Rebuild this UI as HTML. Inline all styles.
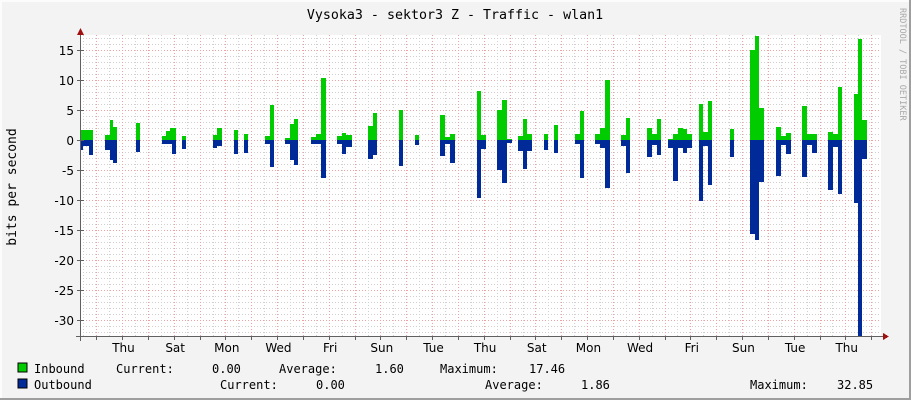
<!DOCTYPE html>
<html><head><meta charset="utf-8"><style>
html,body{margin:0;padding:0;background:#f3f3f3;}
svg{display:block;}
.m{font-family:"DejaVu Sans Mono","Liberation Mono",monospace;font-size:12px;fill:#000;}
.s{font-family:"DejaVu Sans","Liberation Sans",sans-serif;font-size:12px;fill:#000;}
</style></head><body>
<svg id="g" width="911" height="400" xmlns="http://www.w3.org/2000/svg" shape-rendering="crispEdges">
<rect x="0" y="0" width="911" height="400" fill="#f3f3f3"/>
<rect x="0" y="0" width="911" height="2" fill="#fcfcfc"/>
<rect x="0" y="0" width="2" height="400" fill="#fcfcfc"/>
<rect x="0" y="398" width="911" height="2" fill="#9e9e9e"/>
<rect x="909" y="0" width="2" height="400" fill="#9e9e9e"/>
<rect x="80" y="35" width="801" height="302" fill="#ffffff"/>
<g id="grid"></g>
<g id="bars"></g>
<g id="axes"></g>
<text class="m" x="455" y="19" text-anchor="middle" style="font-size:13.3px">Vysoka3 - sektor3 Z - Traffic - wlan1</text>
<text class="m" x="0" y="0" transform="translate(16,187) rotate(-90)" text-anchor="middle" style="font-size:13px">bits per second</text>
<text x="0" y="0" transform="translate(900,8) rotate(90)" style="font-family:'DejaVu Sans Mono','Liberation Mono',monospace;font-size:8.5px;fill:#a8a8a8">RRDTOOL / TOBI OETIKER</text>
<rect x="18" y="363" width="9" height="9" fill="#00cc00" stroke="#000" stroke-width="1"/>
<rect x="18" y="379" width="9" height="9" fill="#002a97" stroke="#000" stroke-width="1"/>
<g class="m">
<text x="34" y="373">Inbound</text><text x="116" y="373">Current:</text><text x="212" y="373">0.00</text><text x="279" y="373">Average:</text><text x="375" y="373">1.60</text><text x="440" y="373">Maximum:</text><text x="529" y="373">17.46</text>
<text x="34" y="389">Outbound</text><text x="220" y="389">Current:</text><text x="316" y="389">0.00</text><text x="485" y="389">Average:</text><text x="581" y="389">1.86</text><text x="750" y="389">Maximum:</text><text x="837" y="389">32.85</text>
</g>
</svg>
<script>
var NS="http://www.w3.org/2000/svg";
function el(p,t,a,txt){var e=document.createElementNS(NS,t);for(var k in a)e.setAttribute(k,a[k]);if(txt)e.textContent=txt;document.getElementById(p).appendChild(e);}
for(var v=-32;v<=17;v++){var y=140-6*v;if(y<35||y>336)continue;
 var maj=(v%5===0);
 el("grid","line",{x1:80,x2:881,y1:y+0.5,y2:y+0.5,stroke:maj?"#f0a0a0":"#d0d0d0","stroke-dasharray":"1,2"});}
for(var i=-1;i<32;i++){var xr=96.3+25.83*i, xg=xr-12.9;
 if(xg>80&&xg<881)el("grid","line",{x1:Math.round(xg)+0.5,x2:Math.round(xg)+0.5,y1:35,y2:337,stroke:"#d0d0d0","stroke-dasharray":"1,2"});
 if(xr>80&&xr<881)el("grid","line",{x1:Math.round(xr)+0.5,x2:Math.round(xr)+0.5,y1:35,y2:337,stroke:"#f0a0a0","stroke-dasharray":"1,2"});}
var B=[[80,83,130,150],[83,89,130,146],[89,93,130,155],[105,110,135,150],[110,113,120,160],[113,117,127,163],[136,140,123,152],[162,166,136,144],[166,170,131,144],[170,172,128,144],[172,176,128,154],[182,186,136,149],[213,217,135,148],[217,222,128,146],[234,238,130,154],[244,248,134,153],[265,270,136,144],[270,274,105,167],[285,290,138,144],[290,294,124,160],[294,298,119,165],[311,316,137,144],[316,321,134,144],[321,326,78,178],[337,342,136,144],[342,346,133,154],[346,352,135,147],[368,373,126,159],[373,377,113,155],[399,403,110,166],[415,419,135,145],[440,445,115,156],[445,450,137,144],[450,455,134,163],[477,481,91,198],[481,486,135,149],[497,502,110,170],[502,507,100,183],[507,512,139,143],[518,523,136,151],[523,527,119,169],[527,532,134,151],[544,548,134,150],[554,558,125,153],[575,580,134,144],[580,584,111,178],[595,600,134,144],[600,605,128,148],[605,610,80,188],[621,626,135,146],[626,630,118,173],[647,652,128,157],[652,657,134,145],[657,661,119,155],[668,673,139,148],[673,678,134,181],[678,683,128,148],[683,687,129,153],[687,692,134,148],[699,703,104,201],[703,708,132,146],[708,712,101,185],[730,734,129,157],[750,755,50,234],[755,759,36,240],[759,764,108,182],[776,781,127,176],[781,786,136,145],[786,791,133,154],[802,807,106,177],[807,812,134,145],[812,817,134,153],[828,833,132,190],[833,838,134,147],[838,842,87,194],[854,858,94,203],[858,862,39,336],[862,867,120,159]];
B.forEach(function(b){el("bars","rect",{x:b[0],y:b[2],width:b[1]-b[0],height:140-b[2],fill:"#00cc00"});
 el("bars","rect",{x:b[0],y:140,width:b[1]-b[0],height:b[3]-140,fill:"#002a97"});});
el("axes","line",{x1:80.5,x2:80.5,y1:30,y2:341,stroke:"#606060"});
el("axes","line",{x1:76,x2:884,y1:336.5,y2:336.5,stroke:"#606060"});
el("axes","polygon",{points:"77,35 84,35 80.5,28",fill:"#a01010"});
el("axes","polygon",{points:"883,333 883,340 889,336.5",fill:"#a01010"});
for(var v=-30;v<=15;v+=5){var y=140-6*v;el("axes","line",{x1:77,x2:84,y1:y+0.5,y2:y+0.5,stroke:"#606060"});
 el("axes","text",{x:74,y:y+5,"text-anchor":"end","class":"s"},String(v));}
for(var i=0;i<31;i++){var x=Math.round(96.3+25.83*i)+0.5;if(x>881)break;el("axes","line",{x1:x,x2:x,y1:336,y2:340,stroke:"#606060"});}
var D=["Thu","Sat","Mon","Wed","Fri","Sun","Tue","Thu","Sat","Mon","Wed","Fri","Sun","Tue","Thu"];
D.forEach(function(d,i){el("axes","text",{x:123.5+51.66*i,y:352,"text-anchor":"middle","class":"s"},d);});
</script>
</body></html>
